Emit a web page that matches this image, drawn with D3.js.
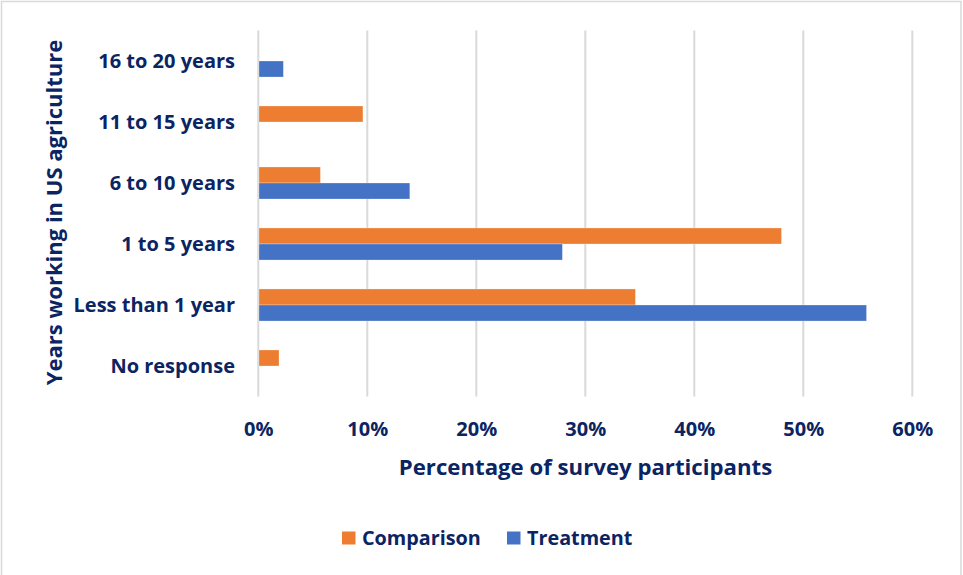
<!DOCTYPE html>
<html>
<head>
<meta charset="utf-8">
<script src="https://cdn.jsdelivr.net/npm/d3@7"></script>
<style>
  html, body { margin: 0; padding: 0; background: #fff; }
  svg { display: block; }
  text { font-family: "Open Sans", Lato, sans-serif; font-weight: 700; fill: #0b2462; }
</style>
</head>
<body>
<svg id="chart" width="963" height="575"></svg>
<script>
// Years working in US agriculture, share of survey participants (%)
const categories = ["16 to 20 years", "11 to 15 years", "6 to 10 years", "1 to 5 years", "Less than 1 year", "No response"];
const seriesNames = ["Comparison", "Treatment"];
const comparison = [0, 9.6, 5.7, 48.0, 34.6, 1.9];
const treatment  = [2.3, 0, 13.9, 27.9, 55.8, 0];
const xTicks = [0, 10, 20, 30, 40, 50, 60];
const colors = ["#ED7D31", "#4472C4"];

const values = [comparison, treatment];
const FONT = "'Open Sans', Lato, sans-serif";

const svg = d3.select("#chart");

// chart frame
svg.append("rect")
  .attr("x", 1.5).attr("y", 1.5)
  .attr("width", 959.5).attr("height", 590)
  .attr("fill", "none").attr("stroke", "#d9d9d9").attr("stroke-width", 1.5);

const plot = { left: 258.3, right: 912.3, top: 30.5, bottom: 396.5 };

const x = d3.scaleLinear().domain([0, 60]).range([plot.left, plot.right]);
const y = d3.scaleBand().domain(categories).range([plot.top, plot.bottom]).paddingInner(0.475).paddingOuter(0.2375);
const ySub = d3.scaleBand().domain(seriesNames).range([0, y.bandwidth()]);

// vertical gridlines
svg.append("g")
  .selectAll("line")
  .data(xTicks)
  .join("line")
  .attr("x1", d => x(d)).attr("x2", d => x(d))
  .attr("y1", plot.top).attr("y2", plot.bottom)
  .attr("stroke", "#d9d9d9").attr("stroke-width", 2);

// bars
const groups = svg.append("g")
  .selectAll("g")
  .data(categories)
  .join("g")
  .attr("transform", d => `translate(0,${y(d)})`);

groups.selectAll("rect")
  .data((c, i) => seriesNames.map((s, j) => ({ s, v: values[j][i], color: colors[j] })))
  .join("rect")
  .filter(d => d.v > 0)
  .attr("x", x(0) + 0.7)
  .attr("y", d => ySub(d.s))
  .attr("width", d => x(d.v) - x(0) - 0.7)
  .attr("height", ySub.bandwidth())
  .attr("fill", d => d.color)
  .attr("stroke", "#fff").attr("stroke-opacity", 0.35).attr("stroke-width", 0.8);

// category labels
const yAxis = d3.axisLeft(y).tickSize(0).tickPadding(0);
svg.append("g")
  .attr("transform", `translate(235,0)`)
  .call(yAxis)
  .call(g => g.select(".domain").remove())
  .selectAll("text")
  .attr("font-size", 20)
  .attr("dy", "0.36em");

// x tick labels
const xAxis = d3.axisBottom(x).tickValues(xTicks).tickFormat(d => d + "%").tickSize(0).tickPadding(0);
svg.append("g")
  .attr("transform", `translate(0,435.5)`)
  .call(xAxis)
  .call(g => g.select(".domain").remove())
  .selectAll("text")
  .attr("font-size", 20)
  .attr("dy", 0);

svg.selectAll(".tick text")
  .attr("fill", "#0b2462")
  .style("font-family", FONT)
  .style("font-weight", 700);

// axis titles
svg.append("text")
  .attr("x", 585.5).attr("y", 474.5)
  .attr("text-anchor", "middle")
  .attr("font-size", 22.2)
  .text("Percentage of survey participants");

svg.append("text")
  .attr("transform", "translate(61.5,212.5) rotate(-90)")
  .attr("text-anchor", "middle")
  .attr("font-size", 22)
  .text("Years working in US agriculture");

// legend
const legend = svg.append("g");
const legendX = [342, 507];
seriesNames.forEach((s, i) => {
  legend.append("rect")
    .attr("x", legendX[i]).attr("y", 531.5)
    .attr("width", 13.5).attr("height", 13)
    .attr("fill", colors[i]);
  legend.append("text")
    .attr("x", legendX[i] + 20).attr("y", 544.5)
    .attr("font-size", 19.8)
    .text(s);
});
</script>
</body>
</html>
